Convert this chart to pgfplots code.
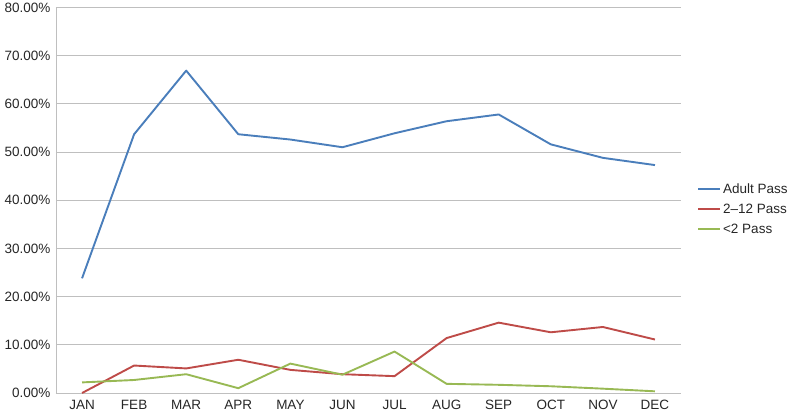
\documentclass[border=0pt]{standalone}
\usepackage{pgfplots}
\pgfplotsset{compat=1.18}
\usepackage{fontspec}
\setmainfont{Liberation Sans}

\definecolor{adult}{HTML}{4A7EBB}
\definecolor{child}{HTML}{BE4B48}
\definecolor{infant}{HTML}{98B954}
\definecolor{gridgray}{HTML}{BFBFBF}

\begin{document}
\begin{tikzpicture}[x=1pt,y=1pt]
\begin{axis}[
    name=ax,
    scale only axis,
    width=625pt,
    height=385.5pt,
    xmin=-0.5, xmax=11.5,
    ymin=0, ymax=80,
    xtick={0,...,11},
    xticklabels={JAN,FEB,MAR,APR,MAY,JUN,JUL,AUG,SEP,OCT,NOV,DEC},
    ytick={0,10,...,80},
    yticklabel={\pgfmathprintnumber[fixed,fixed zerofill,precision=2]{\tick}\%},
    /pgf/number format/assume math mode=true,
    ymajorgrids,
    grid style={gridgray, line width=0.8pt},
    axis x line*=bottom,
    axis y line*=left,
    axis line style={gridgray, line width=0.8pt},
    major tick length=0pt,
    tick label style={font=\fontsize{13.5}{15}\selectfont, text=black!85},
    xticklabel style={yshift=-4pt},
    yticklabel style={xshift=-2pt},
    legend style={draw=none, fill=none, at={(1.0,0.477)}, anchor=west,
        xshift=14pt, font=\fontsize{13.5}{15}\selectfont, text=black!85,
        row sep=5pt, inner sep=2pt},
    legend cell align=left,
    legend image code/.code={\draw[#1] (0pt,0pt) -- (22pt,0pt);},
    every axis plot/.append style={line width=1.9pt, line join=round},
]
\addplot[adult] coordinates {
    (0,23.8) (1,53.7) (2,66.9) (3,53.7) (4,52.6) (5,51.0)
    (6,53.9) (7,56.4) (8,57.8) (9,51.6) (10,48.8) (11,47.3)};
\addlegendentry{Adult Pass}
\addplot[child] coordinates {
    (0,0.0) (1,5.7) (2,5.1) (3,6.9) (4,4.8) (5,3.9)
    (6,3.5) (7,11.4) (8,14.6) (9,12.6) (10,13.7) (11,11.1)};
\addlegendentry{2--12 Pass}
\addplot[infant] coordinates {
    (0,2.2) (1,2.7) (2,3.9) (3,1.0) (4,6.1) (5,3.8)
    (6,8.6) (7,1.9) (8,1.7) (9,1.4) (10,0.9) (11,0.35)};
\addlegendentry{<2 Pass}
\end{axis}
\pgfresetboundingbox
\path (ax.south west) ++(-56pt,-25pt) rectangle ++(791pt,418pt);
\end{tikzpicture}
\end{document}
